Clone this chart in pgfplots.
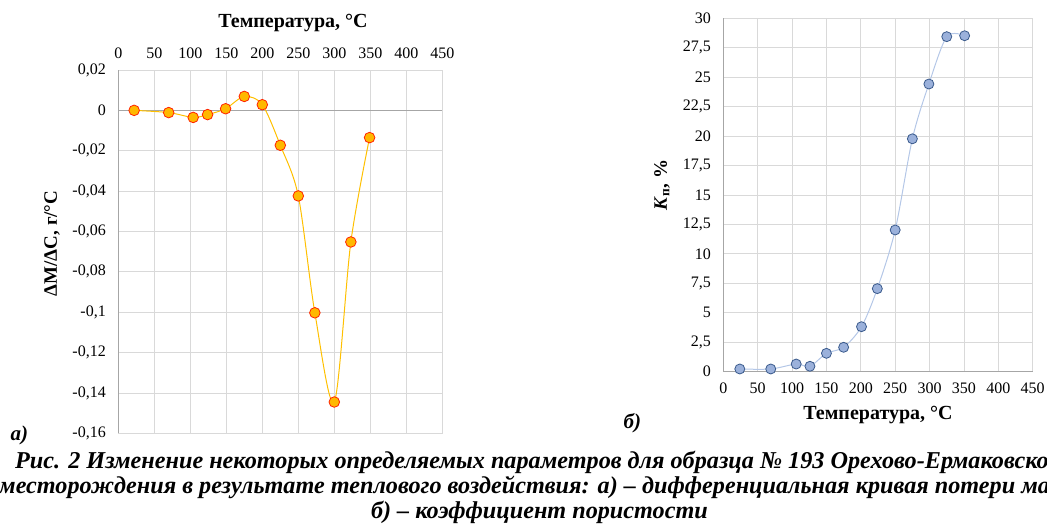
\documentclass[border=0pt]{standalone}
\usepackage{fontspec}
\setmainfont{Liberation Serif}
\usepackage{pgfplots}
\pgfplotsset{compat=1.18}
\definecolor{gridc}{HTML}{D9D9D9}
\definecolor{axc}{HTML}{A6A6A6}
\definecolor{oline}{HTML}{FFC000}
\definecolor{ofill}{HTML}{FFB800}
\definecolor{oedge}{HTML}{FF2200}
\definecolor{bline}{HTML}{B4C7E7}
\definecolor{bfill}{HTML}{9BB1DB}
\definecolor{bedge}{HTML}{3A5A8C}
\pgfplotsset{
  common/.style={
    scale only axis, anchor=south west,
    grid=major, grid style={gridc, line width=0.8pt},
    axis line style={gridc, line width=0.8pt},
    major tick length=0pt,
    tick label style={font=\fontsize{16}{16}\selectfont},
    /pgf/number format/assume math mode=true,
    /pgf/number format/use comma,
    /pgf/number format/fixed,
    scaled ticks=false,
    clip=false,
  }
}
\begin{document}
\begin{tikzpicture}[x=1pt,y=1pt]
\useasboundingbox (0,0) rectangle (1047,532);
% left chart
\begin{axis}[common,
  at={(118.3pt,98.7pt)}, width=324pt, height=363.3pt,
  xmin=0, xmax=450, ymin=-0.16, ymax=0.02,
  xtick={0,50,100,150,200,250,300,350,400,450},
  ytick={-0.16,-0.14,-0.12,-0.1,-0.08,-0.06,-0.04,-0.02,0,0.02},
  yticklabel style={/pgf/number format/precision=2, xshift=-9pt},
  xticklabel pos=upper,
  xticklabel style={yshift=8pt},
]
\draw[axc, line width=0.8pt] (axis cs:0,0) -- (axis cs:450,0);
\draw[axc, line width=0.8pt] (axis cs:0,-0.16) -- (axis cs:0,0.02);
\addplot[oline, line width=1pt, smooth, tension=0.5, mark=*, mark size=5.3pt,
  mark options={fill=ofill, draw=oedge, line width=0.8pt}] coordinates {
  (22,0) (70,-0.0011) (104,-0.0035) (124,-0.0021) (149,0.0008) (175,0.0069)
  (200,0.0028) (225,-0.0173) (250,-0.0424) (273,-0.1003) (300,-0.1445)
  (323,-0.0652) (349,-0.0135)
};
\end{axis}
% right chart
\begin{axis}[common,
  at={(723.3pt,160.3pt)}, width=309.4pt, height=353.4pt,
  xmin=0, xmax=450, ymin=0, ymax=30,
  xtick={0,50,100,150,200,250,300,350,400,450},
  ytick={0,2.5,5,7.5,10,12.5,15,17.5,20,22.5,25,27.5,30},
  yticklabel style={/pgf/number format/precision=1, xshift=-9pt},
  xticklabel style={yshift=-8pt},
]
\draw[axc, line width=0.8pt] (axis cs:0,0) -- (axis cs:450,0);
\draw[axc, line width=0.8pt] (axis cs:0,0) -- (axis cs:0,30);
\addplot[bline, line width=1pt, smooth, tension=0.5, mark=*, mark size=5pt,
  mark options={fill=bfill, draw=bedge, line width=0.8pt}] coordinates {
  (24,0.23) (69,0.23) (106,0.65) (126,0.46) (150,1.56) (175,2.07)
  (201,3.82) (224,7.05) (250,12.03) (275,19.77) (299,24.42)
  (325,28.44) (351,28.52)
};
\end{axis}
% titles
\node[font=\fontsize{20}{20}\selectfont\bfseries] at (293,509) {Температура, °C};
\node[font=\fontsize{19}{19}\selectfont\bfseries, rotate=90] at (52,288.5) {ΔM/ΔC, г/°C};
\node[font=\fontsize{20}{20}\selectfont\bfseries] at (878,117) {Температура, °C};
\node[font=\fontsize{19}{19}\selectfont\bfseries, rotate=90] at (662,347) {\textit{K}\textsubscript{п}, \%};
\node[font=\fontsize{21}{21}\selectfont\bfseries\itshape, anchor=west] at (7,97) {а)};
\node[font=\fontsize{21}{21}\selectfont\bfseries\itshape, anchor=west] at (620,109) {б)};
% caption
\node[font=\fontsize{24.2}{24.2}\selectfont\bfseries\itshape, anchor=base west, inner sep=0pt] at (15,63) {Рис. 2 Изменение некоторых определяемых параметров для образца № 193 Орехово-Ермаковского};
\node[font=\fontsize{24.2}{24.2}\selectfont\bfseries\itshape, anchor=base west, inner sep=0pt] at (-1,38) {месторождения в результате теплового воздействия: а) – дифференциальная кривая потери массы;};
\node[font=\fontsize{24.2}{24.2}\selectfont\bfseries\itshape, anchor=base east, inner sep=0pt] at (708,13) {б) – коэффициент пористости};
\end{tikzpicture}
\end{document}
